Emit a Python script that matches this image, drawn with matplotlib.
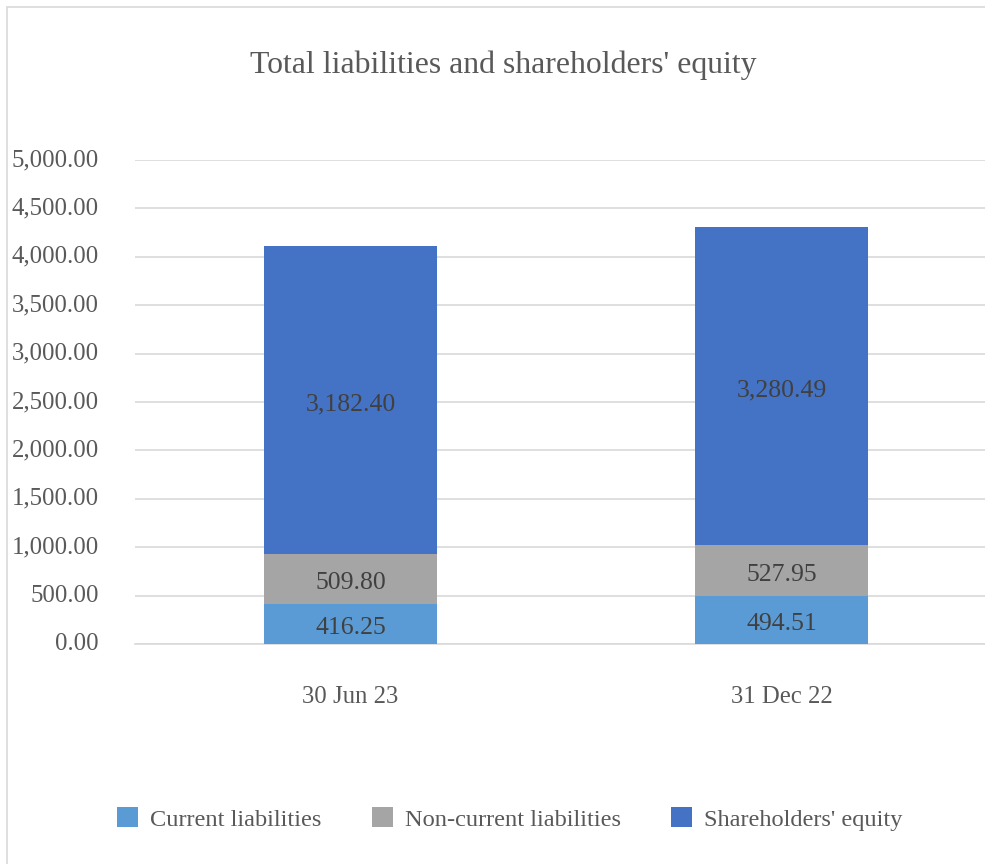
import matplotlib
matplotlib.use("Agg")
import matplotlib.pyplot as plt
from matplotlib.patches import Rectangle
import matplotlib.transforms as mtransforms
import numpy as np

categories = ["30 Jun 23", "31 Dec 22"]
current = [416.25, 494.51]
noncurrent = [509.80, 527.95]
equity = [3182.40, 3280.49]
series_names = ["Current liabilities", "Non-current liabilities", "Shareholders' equity"]
colors = ["#5B9BD5", "#A5A5A5", "#4472C4"]
yticks = [0, 500, 1000, 1500, 2000, 2500, 3000, 3500, 4000, 4500, 5000]

plt.rcParams['font.family'] = ['Liberation Serif', 'DejaVu Serif']

W, H = 985, 864
fig = plt.figure(figsize=(W/100, H/100), dpi=100)

# chart border
fig.patches.append(Rectangle((7/W, -0.1), 1.2, (H-7)/H + 0.1, transform=fig.transFigure,
                             fill=False, edgecolor="#d9d9d9", linewidth=1.2))

ax = fig.add_axes([135/W, 1-644/H, 862/W, (644-160)/H])
x = np.arange(len(categories))
bw = 0.4
label_tr = ax.transData + mtransforms.ScaledTranslation(0, -4/100, fig.dpi_scale_trans)
bottoms = np.zeros(len(categories))
for vals, name, c in zip([current, noncurrent, equity], series_names, colors):
    ax.bar(x, vals, bw, bottom=bottoms, color=c, label=name, zorder=3)
    for xi, v, b in zip(x, vals, bottoms):
        ax.text(xi, b + v/2, f"{v:,.2f}", ha="center", va="center",
                fontsize=18.5, color="#404040", zorder=4, transform=label_tr)
    bottoms = bottoms + np.array(vals)

ax.set_xlim(-0.5, 1.5)
ax.set_ylim(0, 5000)
ax.set_yticks(yticks)
ax.set_yticklabels([f"{v:,.2f}" for v in yticks])
ax.set_xticks(x)
ax.set_xticklabels(categories)
ax.grid(axis="y", color="#d9d9d9", linewidth=1.2, zorder=0)
for s in ["top", "right", "left"]:
    ax.spines[s].set_visible(False)
ax.spines["bottom"].set_color("#d9d9d9")
ax.spines["bottom"].set_linewidth(1.2)
ax.tick_params(axis="y", length=0, pad=26, labelsize=17.8, labelcolor="#595959")
ax.tick_params(axis="x", length=0, pad=30, labelsize=17.8, labelcolor="#595959")
for lab in ax.get_yticklabels():
    lab.set_verticalalignment("center")

fig.text(503/W, 1-65/H, "Total liabilities and shareholders' equity",
         ha="center", va="center", fontsize=22.9, color="#595959")

leg = fig.legend(loc="center", bbox_to_anchor=(510/W, 1-819/H), ncol=3, frameon=False,
                 fontsize=17.6, handlelength=0.85, handleheight=0.85, handletextpad=0.5,
                 columnspacing=2.05)
for t in leg.get_texts():
    t.set_color("#595959")

fig.savefig("out.png", dpi=100)
